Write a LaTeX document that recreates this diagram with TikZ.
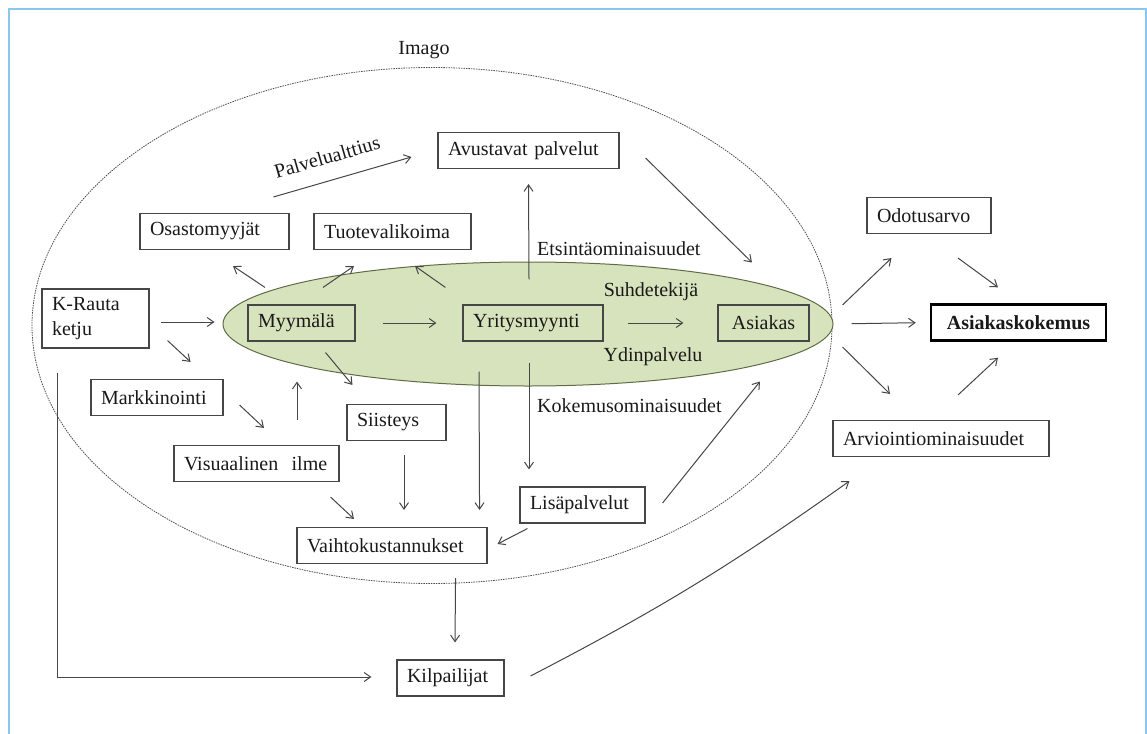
\documentclass[tikz,border=0pt]{standalone}
\usepackage{fontspec}
\setmainfont{Liberation Serif}
\usetikzlibrary{shapes.geometric,arrows.meta,calc}

\definecolor{framecol}{RGB}{140,198,238}
\definecolor{coregreen}{RGB}{215,227,188}
\definecolor{coreline}{RGB}{95,108,70}
\definecolor{linegray}{RGB}{70,70,70}

\begin{document}
\begin{tikzpicture}[
    x=1pt, y=-1pt,
    every node/.style = {font=\fontsize{20}{25}\selectfont, text=black!90},
    box/.style = {draw=linegray, line width=1.1pt, minimum height=36pt, inner ysep=3pt, inner xsep=10pt, align=left},
    lbl/.style = {inner sep=1pt},
    arr/.style = {draw=linegray, line width=1pt, -{Straight Barb[length=6.5pt,width=9pt]}}
]

% Kehys
\useasboundingbox (0,0) rectangle (1147,733);
\draw[framecol, line width=2pt] (9,9.5) rectangle (1146,760);

% --- IMAGO ---
\node[ellipse, draw=black!70, dash pattern=on 1.5pt off 1pt, line width=0.8pt,
      minimum width=800pt, minimum height=516pt, inner sep=0pt] (imago) at (432,325.5) {};
\node[lbl] (imagolbl) at (424,50) {Imago};

% --- YDIN (vihreä) ---
\node[ellipse, draw=coreline, fill=coregreen, line width=1pt,
      minimum width=610pt, minimum height=124pt, inner sep=0pt] (core) at (528,324) {};

% --- LAATIKOT ---
\node[box, text width=87pt, minimum height=59pt] (krauta) at (95.5,318.5) {K-Rauta\\ketju};
\node[box, text width=112pt] (markk) at (157,397.5) {Markkinointi};
\node[box, text width=145pt] (visu) at (256.5,463.5) {Visuaalinen\ \ ilme};
\node[box, text width=87pt] (myym) at (301.5,323) {Myymälä};
\node[box, text width=129pt] (osasto) at (214.5,231.5) {Osastomyyjät};
\node[box, text width=137pt] (tuote) at (392.5,231.5) {Tuotevalikoima};
\node[box, text width=161pt] (avust) at (528.5,150.5) {Avustavat palvelut};
\node[box, text width=120pt] (yrit) at (533,323) {Yritysmyynti};
\node[box, inner xsep=3pt, minimum width=91pt, align=center] (asiak) at (763.5,323) {Asiakas};
\node[box, text width=79pt] (siist) at (396.5,422.5) {Siisteys};
\node[box, text width=170pt] (vaiht) at (392,545.5) {Vaihtokustannukset};
\node[box, text width=105pt] (lisap) at (582.5,505) {Lisäpalvelut};
\node[box, text width=87pt] (kilp) at (450.5,678) {Kilpailijat};
\node[box, text width=104pt] (odot) at (929,215.5) {Odotusarvo};
\node[box, draw=black, line width=2.4pt, inner xsep=3pt, minimum width=175pt, align=center,
      font=\fontsize{20}{25}\selectfont\bfseries] (asko) at (1018.5,322.5) {Asiakaskokemus};
\node[box, text width=196pt] (arvio) at (941,438.5) {Arviointiominaisuudet};

% --- TEKSTIT ---
\node[lbl, rotate=16] (palv) at (327,157) {Palvelualttius};
\node[lbl, anchor=west] (etsin) at (536,249) {Etsintäominaisuudet};
\node[lbl] (suhde) at (651,292) {Suhdetekijä};
\node[lbl] (ydin) at (653,357) {Ydinpalvelu};
\node[lbl, anchor=west] (kokem) at (536,406) {Kokemusominaisuudet};

% --- NUOLET ---
\draw[arr] ($(krauta.east)+(11,3.5)$) -- ($(core.west)+(-8,-2)$);
\draw[arr] ($(krauta.south east)+(18,-8)$) -- ($(markk.north east)+(-33,-17)$);
\draw[arr] ($(markk.east)+(16,7.5)$) -- ($(visu.north)+(7.5,-17)$);
\draw[arr] ($(visu.north)+(40.5,-25)$) -- ($(myym.south)+(-4.5,40)$);
\draw[arr] ($(myym.south east)+(-30,11)$) -- ($(siist.north west)+(6,-19)$);
\draw[arr] ($(myym.north)+(-36.5,-17)$) -- ($(osasto.south)+(18.5,16)$);
\draw[arr] ($(myym.north)+(21.5,-17)$) -- ($(tuote.south)+(-38.5,16)$);
\draw[arr] ($(yrit.north west)+(-17,-17)$) -- ($(tuote.south)+(22.5,16)$);
\draw[arr] ($(osasto.north east)+(-16,-16)$) -- ($(avust.west)+(-26,6.5)$);
\draw[arr] ($(yrit.north)+(-4,-25)$) -- ($(avust.south)+(0,15)$);
\draw[arr] ($(avust.east)+(26,7.5)$) -- ($(asiak.north)+(-11.5,-42)$);
\draw[arr, shorten <=27pt, shorten >=26pt] (myym.east) -- (yrit.west);
\draw[arr, shorten <=24pt, shorten >=34pt] (yrit.east) -- (asiak.west);
\draw[arr, shorten <=18pt, shorten >=14pt] (core.east) -- (asko.west);
\draw[arr] ($(core.east)+(9,-19)$) -- ($(odot.south west)+(25,24)$);
\draw[arr] ($(odot.south)+(29,24)$) -- ($(asko.north)+(-20.5,-16)$);
\draw[arr] ($(core.east)+(9,23)$) -- ($(arvio.north)+(-51,-26)$);
\draw[arr] ($(arvio.north)+(17,-25)$) -- ($(asko.south)+(-20.5,16)$);
\draw[arr] ($(siist.south)+(7.5,14)$) -- ($(vaiht.north)+(12,-17)$);
\draw[arr] ($(visu.south east)+(-9,15)$) -- ($(vaiht.north)+(-38,-8)$);
\draw[arr] ($(core.south)+(-49,-15)$) -- ($(vaiht.north east)+(-8,-17)$);
\draw[arr] ($(yrit.south)+(-4,21)$) -- ($(lisap.north)+(-53.5,-17)$);
\draw[arr] ($(lisap.south west)+(8,5)$) -- ($(vaiht.east)+(10,-1.5)$);
\draw[arr] ($(lisap.east)+(17,-2)$) -- ($(asiak.south)+(-3.5,40)$);
\draw[arr] ($(vaiht.south east)+(-32,14)$) -- ($(kilp.north)+(4.5,-17)$);
\draw[arr] ($(krauta.south west)+(16,24)$) |- ($(kilp.west)+(-25,-1)$);
\draw[arr] ($(kilp.east)+(26,-2)$) to[bend right=4] ($(arvio.south west)+(17,24)$);

\end{tikzpicture}
\end{document}
